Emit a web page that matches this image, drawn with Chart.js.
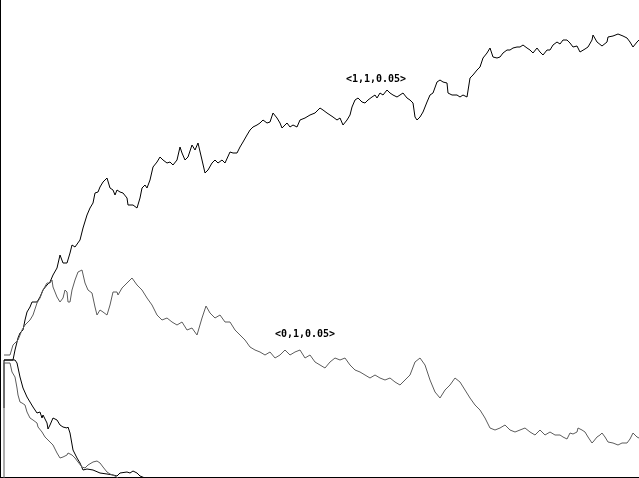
<!DOCTYPE html>
<html>
<head>
<meta charset="utf-8">
<script src="https://cdn.jsdelivr.net/npm/chart.js@4/dist/chart.umd.min.js"></script>
<style>
  html, body { margin: 0; padding: 0; background: #fff; }
  #wrap { width: 639px; height: 478px; }
</style>
</head>
<body>
<div id="wrap"><canvas id="walkChart" width="639" height="478"></canvas></div>
<script>
// step index and value for each walk
const upBlackX = [4,13,15,18,20,23,25,27,30,32,37,40,43,47,50,53,57,60,63,67,70,72,75,80,83,87,90,93,95,98,100,103,107,110,113,115,117,120,123,127,128,133,137,140,142,145,147,150,153,157,160,163,167,170,173,177,180,182,185,188,192,195,198,202,205,208,212,215,218,222,225,230,233,237,240,243,247,250,253,257,260,263,267,270,273,277,280,282,287,290,293,297,300,305,310,315,320,323,327,330,333,337,340,343,347,350,352,355,358,362,365,368,372,375,377,380,383,387,390,393,397,400,403,407,410,413,415,417,420,423,427,430,433,437,440,443,447,448,452,457,460,463,467,470,473,477,480,483,487,490,493,497,500,503,507,510,513,517,520,523,527,530,533,537,540,543,547,550,553,557,560,563,567,570,573,577,580,585,588,592,593,597,602,607,608,613,618,623,627,630,633,637,639];
const upBlackY = [118,118,128,140,145,148,158,166,171,176,176,181,188,193,196,203,210,223,215,215,225,233,231,238,250,263,270,275,285,286,291,296,300,290,288,283,288,286,285,280,273,273,270,280,290,293,290,298,311,316,321,318,315,316,313,318,331,325,318,321,333,328,335,318,305,308,315,318,315,318,315,326,325,325,331,336,343,348,351,353,355,358,355,356,365,360,355,350,355,351,353,351,358,360,363,365,370,368,365,363,361,358,360,353,358,363,371,378,380,376,375,378,381,383,380,385,383,388,385,383,381,383,385,380,378,375,361,358,361,366,376,383,385,396,398,396,395,385,383,383,381,383,381,400,403,408,411,420,425,430,421,420,421,425,428,428,430,431,431,433,430,428,425,430,426,423,428,428,433,436,434,438,438,435,431,432,426,429,431,438,443,436,432,436,441,442,444,442,440,436,431,436,438];

const upGrayX = [4,10,13,18,22,25,30,33,37,40,43,47,50,52,53,57,60,63,65,67,68,70,72,75,78,82,85,88,92,95,97,100,103,107,110,113,117,118,122,127,132,137,142,147,152,157,162,167,172,177,182,187,192,197,202,206,210,215,220,225,230,235,240,245,250,255,260,265,270,275,280,285,290,295,300,305,310,315,320,325,330,335,340,345,350,355,360,365,370,375,380,385,390,395,400,405,410,415,420,425,430,435,440,445,450,455,460,465,470,475,480,485,490,495,500,505,510,515,520,525,530,535,540,545,550,555,560,563,567,570,573,577,578,582,585,588,592,593,597,600,602,605,608,613,618,622,627,630,633,637,639];
const upGrayY = [123,123,133,138,148,153,158,163,175,180,188,195,195,198,191,181,176,180,188,186,176,176,188,198,206,208,195,188,185,171,163,168,166,163,173,186,186,183,190,195,200,193,188,180,173,163,158,160,156,153,156,148,150,143,160,172,165,160,163,156,156,148,143,138,131,128,126,123,126,120,123,128,123,126,128,120,123,116,113,110,116,120,118,120,113,108,106,103,100,103,100,98,100,96,93,98,103,116,120,113,98,86,80,88,93,100,96,88,80,73,68,60,50,48,50,53,48,46,48,50,46,43,48,43,46,43,43,41,39,45,44,46,50,48,46,41,35,36,41,43,45,41,36,35,33,35,35,39,45,41,40];

const downBlackX = [4,4,15,17,20,23,27,30,33,37,40,42,43,47,48,50,53,57,60,63,67,68,70,73,77,80,83,87,93,100,107,113,117,120,127,130,133,137,140,145];
const downBlackY = [70,118,118,115,101,90,81,76,71,65,66,60,63,55,49,53,60,58,53,51,50,51,45,28,20,15,8,9,8,5,4,3,2,5,6,5,7,5,2,0];

const downGrayX = [4,4,10,12,15,17,18,20,22,25,27,30,33,37,38,42,45,48,53,57,60,63,67,68,72,75,78,82,85,88,93,97,100,103,107,110,115,118];
const downGrayY = [0,115,115,106,101,90,83,76,75,73,66,60,58,55,51,46,41,38,33,25,20,21,23,25,23,20,16,11,10,13,16,17,15,11,6,4,2,0];

const labelTexts = ['<1,1,0.05>', '<0,1,0.05>'];
const labelX = [376, 305];
const labelY = [399, 144];

function pairs(xs, ys) {
    return xs.map((x, i) => ({ x: x, y: ys[i] }));
}

const labelPlugin = {
    id: 'walkLabels',
    afterDatasetsDraw(chart) {
        const ctx = chart.ctx;
        ctx.save();
        ctx.fillStyle = '#000';
        ctx.font = 'bold 10px "DejaVu Sans Mono"';
        ctx.textAlign = 'center';
        ctx.textBaseline = 'middle';
        labelTexts.forEach((t, i) => {
            ctx.fillText(t, chart.scales.x.getPixelForValue(labelX[i]), chart.scales.y.getPixelForValue(labelY[i]));
        });
        ctx.restore();
    }
};

const lineStyle = { pointRadius: 0, borderWidth: 1, fill: false, tension: 0 };

new Chart(document.getElementById('walkChart'), {
    type: 'line',
    data: {
        datasets: [
            { label: 'down gray', data: pairs(downGrayX, downGrayY), borderColor: '#5c5c5c', ...lineStyle },
            { label: 'down black', data: pairs(downBlackX, downBlackY), borderColor: '#000', ...lineStyle },
            { label: '<0,1,0.05>', data: pairs(upGrayX, upGrayY), borderColor: '#5c5c5c', ...lineStyle },
            { label: '<1,1,0.05>', data: pairs(upBlackX, upBlackY), borderColor: '#000', ...lineStyle }
        ]
    },
    options: {
        responsive: false,
        animation: false,
        layout: { padding: 0 },
        plugins: { legend: { display: false }, tooltip: { enabled: false } },
        scales: {
            x: {
                type: 'linear', min: 0, max: 639,
                grid: { display: false, drawTicks: false, tickLength: 0 },
                ticks: { display: false, padding: 0 },
                border: { display: true, color: '#000', width: 2 }
            },
            y: {
                min: 0, max: 478,
                grid: { display: false, drawTicks: false, tickLength: 0 },
                ticks: { display: false, padding: 0 },
                border: { display: true, color: '#000', width: 2 }
            }
        }
    },
    plugins: [labelPlugin]
});
</script>
</body>
</html>
